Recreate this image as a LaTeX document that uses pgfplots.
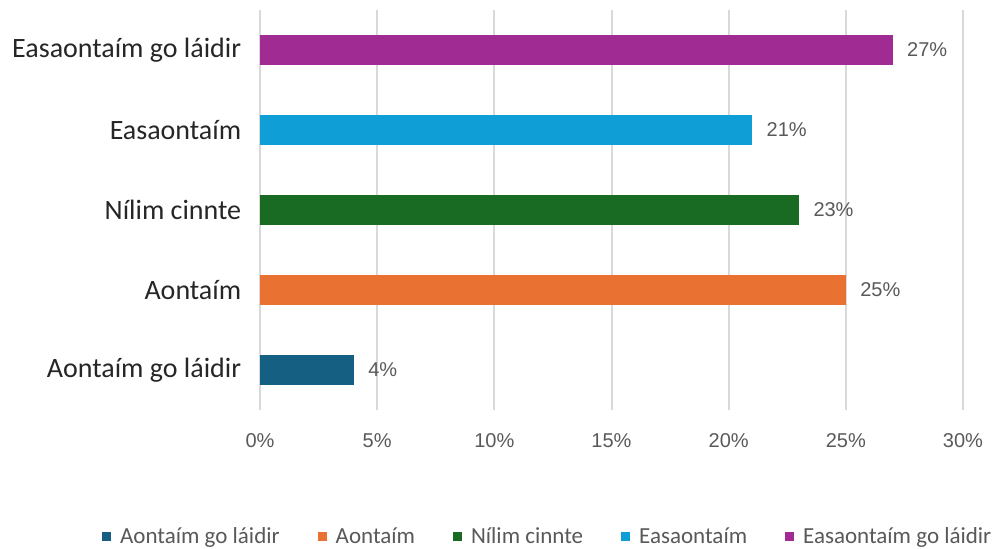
\documentclass[border=0pt]{standalone}
\usepackage{pgfplots}
\pgfplotsset{compat=1.18}
\usepackage{fontspec}
\setmainfont{Liberation Sans}
\newfontfamily\catfont{Carlito}
\definecolor{cA}{HTML}{156082}
\definecolor{cB}{HTML}{E97132}
\definecolor{cC}{HTML}{196B24}
\definecolor{cD}{HTML}{0F9ED5}
\definecolor{cE}{HTML}{A02B93}
\definecolor{gridc}{HTML}{D9D9D9}
\definecolor{txt}{HTML}{595959}
\definecolor{cat}{HTML}{262626}
\begin{document}
\begin{tikzpicture}
\path[use as bounding box] (0,0) rectangle (999pt,549pt);
\begin{axis}[
  at={(260pt,139pt)}, anchor=south west,
  scale only axis, width=703pt, height=400pt,
  xbar, bar width=30pt, bar shift=0pt,
  xmin=0, xmax=30, ymin=-0.5, ymax=4.5,
  xtick={0,5,10,15,20,25,30},
  xticklabels={0\%,5\%,10\%,15\%,20\%,25\%,30\%},
  ytick={0,1,2,3,4},
  yticklabels={Aontaím go láidir,Aontaím,Nílim cinnte,Easaontaím,Easaontaím go láidir},
  xmajorgrids, grid style={gridc, line width=2pt},
  axis line style={draw=none},
  major tick style={draw=none},
  xticklabel style={font=\fontsize{20}{24}\selectfont, text=txt, yshift=-20pt},
  yticklabel style={font=\catfont\fontsize{28}{32}\selectfont, text=cat, xshift=-11pt},
  /pgf/number format/assume math mode=true,
  nodes near coords={\pgfmathprintnumber{\pgfplotspointmeta}\%},
  nodes near coords style={font=\fontsize{20}{24}\selectfont, text=txt, anchor=west, xshift=11pt},
  legend columns=5,
  legend style={draw=none, at={(0.410,-0.315)}, anchor=center,
    font=\catfont\fontsize{23}{27}\selectfont, text=txt,
    /tikz/every odd column/.append style={column sep=6pt},
    /tikz/every even column/.append style={column sep=35pt},
    nodes={inner sep=3pt}},
  legend image code/.code={\draw[#1,draw=none] (0pt,-4.5pt) rectangle (9pt,4.5pt);},
]
\addplot[fill=cA, draw=none] coordinates {(4,0)};
\addplot[fill=cB, draw=none] coordinates {(25,1)};
\addplot[fill=cC, draw=none] coordinates {(23,2)};
\addplot[fill=cD, draw=none] coordinates {(21,3)};
\addplot[fill=cE, draw=none] coordinates {(27,4)};
\legend{Aontaím go láidir,Aontaím,Nílim cinnte,Easaontaím,Easaontaím go láidir}
\end{axis}
\end{tikzpicture}
\end{document}
